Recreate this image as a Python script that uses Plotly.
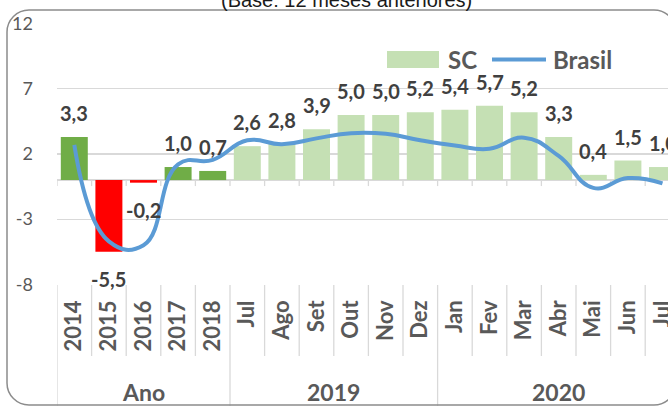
import plotly.graph_objects as go

# ---------------- data ----------------
categories = ["2014", "2015", "2016", "2017", "2018",
              "Jul", "Ago", "Set", "Out", "Nov", "Dez",
              "Jan", "Fev", "Mar", "Abr", "Mai", "Jun", "Jul"]
group_names = ["Ano", "2019", "2020"]
group_sizes = [5, 6, 7]
sc_values = [3.3, -5.5, -0.2, 1.0, 0.7,
             2.6, 2.8, 3.9, 5.0, 5.0, 5.2,
             5.4, 5.7, 5.2, 3.3, 0.4, 1.5, 1.0]
brasil_values = [2.7, -4.7, -5.0, 1.2, 1.55,
                 3.05, 2.75, 3.2, 3.6, 3.55, 3.05,
                 2.65, 2.4, 3.25, 1.85, -0.6, 0.15, -0.25]
y_ticks = [-8, -3, 2, 7, 12]
series_names = ["SC", "Brasil"]
title_text = "(Base: 12 meses anteriores)"

# ---------------- layout constants ----------------
W, H = 668, 406
ML, MR, MT = 57, 0, 23
PH = 262
MB = H - MT - PH
PW = W - ML - MR
CAT_W = 34.6
x_range = [-0.5, -0.5 + PW / CAT_W]
y_range = [-8.05, 12.05]

C_DARK_GREEN = "#70AD47"
C_RED = "#FF0000"
C_LIGHT_GREEN = "#C5E0B4"
C_LINE = "#5B9BD5"
C_GRID = "#D9D9D9"
C_AXIS_TXT = "#595959"
C_LABEL = "#404040"
FONT = "Lato"


def pxx(px):
    """window pixel x -> paper x"""
    return (px - ML) / PW


def pxy(py):
    """window pixel y -> paper y"""
    return (H - MB - py) / PH


x_idx = list(range(len(categories)))
n_annual = group_sizes[0]
bar_colors = []
for i, v in enumerate(sc_values):
    if i < n_annual:
        bar_colors.append(C_DARK_GREEN if v >= 0 else C_RED)
    else:
        bar_colors.append(C_LIGHT_GREEN)

fig = go.Figure()
fig.add_trace(go.Bar(x=x_idx, y=sc_values, name=series_names[0],
                     marker=dict(color=bar_colors, line=dict(width=0)),
                     hoverinfo="skip"))
fig.add_trace(go.Scatter(x=x_idx, y=brasil_values, name=series_names[1],
                         mode="lines",
                         line=dict(color=C_LINE, width=4, shape="spline", smoothing=1.3),
                         hoverinfo="skip"))

shapes = []
annotations = []

# zero line ticks (category boundaries)
for b in range(len(categories) + 1):
    shapes.append(dict(type="line", xref="x", yref="y", ysizemode="pixel", yanchor=0,
                       x0=b - 0.5, x1=b - 0.5, y0=0, y1=-6,
                       line=dict(color=C_GRID, width=1.3), layer="below"))

# bottom category dividers
group_starts = []
s = 0
for g in group_sizes:
    group_starts.append(s)
    s += g
for b in range(len(categories) + 1):
    is_group = b in group_starts or b == len(categories)
    y1 = pxy(H + 5) if is_group else pxy(356)
    shapes.append(dict(type="line", xref="x", yref="paper",
                       x0=b - 0.5, x1=b - 0.5, y0=0, y1=y1,
                       line=dict(color=C_GRID, width=1.3)))

# group labels
for name, start, size in zip(group_names, group_starts, group_sizes):
    annotations.append(dict(x=start + (size - 1) / 2, xref="x", y=pxy(392), yref="paper",
                            text=name, showarrow=False, xanchor="center", yanchor="middle",
                            font=dict(family=FONT, size=23, color=C_AXIS_TXT, weight="bold")))

# data labels
for i, v in enumerate(sc_values):
    txt = f"{v:.1f}".replace(".", ",")
    if v >= 0:
        annotations.append(dict(x=i, y=v, xref="x", yref="y", text=txt, showarrow=False,
                                xanchor="center", yanchor="bottom", yshift=10,
                                font=dict(family=FONT, size=20, color=C_LABEL, weight="bold")))
    else:
        annotations.append(dict(x=i, y=v, xref="x", yref="y", text=txt, showarrow=False,
                                xanchor="center", yanchor="top", yshift=-13,
                                font=dict(family=FONT, size=20, color=C_LABEL, weight="bold")))

# manual legend
shapes.append(dict(type="rect", xref="paper", yref="paper",
                   x0=pxx(387), x1=pxx(439), y0=pxy(68), y1=pxy(51),
                   fillcolor=C_LIGHT_GREEN, line=dict(width=0)))
annotations.append(dict(x=pxx(446), y=pxy(60), xref="paper", yref="paper", text=series_names[0],
                        showarrow=False, xanchor="left", yanchor="middle",
                        font=dict(family=FONT, size=24, color=C_AXIS_TXT, weight="bold")))
shapes.append(dict(type="line", xref="paper", yref="paper",
                   x0=pxx(492), x1=pxx(546), y0=pxy(59.5), y1=pxy(59.5),
                   line=dict(color=C_LINE, width=4)))
annotations.append(dict(x=pxx(551), y=pxy(60), xref="paper", yref="paper", text=series_names[1],
                        showarrow=False, xanchor="left", yanchor="middle",
                        font=dict(family=FONT, size=24, color=C_AXIS_TXT, weight="bold")))

# title (cut at top in the reference)
annotations.append(dict(x=pxx(346), y=pxy(0), xref="paper", yref="paper", text=title_text,
                        showarrow=False, xanchor="center", yanchor="middle",
                        font=dict(family="Liberation Sans", size=20, color="#1a1a1a")))

# rounded frame
fx0, fx1, fy0, fy1, r = 7, 676, 10, 405, 22
k = 0.5523 * r


def P(px, py):
    return f"{pxx(px):.5f},{pxy(py):.5f}"


path = (f"M {P(fx0, fy0 + r)} C {P(fx0, fy0 + r - k)} {P(fx0 + r - k, fy0)} {P(fx0 + r, fy0)} "
        f"L {P(fx1 - r, fy0)} C {P(fx1 - r + k, fy0)} {P(fx1, fy0 + r - k)} {P(fx1, fy0 + r)} "
        f"L {P(fx1, fy1 - r)} C {P(fx1, fy1 - r + k)} {P(fx1 - r + k, fy1)} {P(fx1 - r, fy1)} "
        f"L {P(fx0 + r, fy1)} C {P(fx0 + r - k, fy1)} {P(fx0, fy1 - r + k)} {P(fx0, fy1 - r)} Z")
shapes.append(dict(type="path", xref="paper", yref="paper", path=path,
                   line=dict(color="#8C8C8C", width=1.5), fillcolor="rgba(0,0,0,0)"))

fig.update_layout(
    template="none",
    width=W, height=H,
    margin=dict(l=ML, r=MR, t=MT, b=MB, pad=0, autoexpand=False),
    paper_bgcolor="white", plot_bgcolor="white",
    showlegend=False,
    bargap=0.22,
    shapes=shapes,
    annotations=annotations,
    xaxis=dict(range=x_range, tickmode="array", tickvals=x_idx, ticktext=categories,
               tickangle=-90, ticks="", showgrid=False, zeroline=False, showline=False,
               automargin=False, fixedrange=True, ticklabelstandoff=10,
               ticklabeloverflow="allow",
               tickfont=dict(family=FONT, size=22, color=C_AXIS_TXT, weight="bold")),
    yaxis=dict(range=y_range, tickmode="array", tickvals=y_ticks,
               ticktext=[str(v) for v in y_ticks], ticks="",
               showgrid=True, gridcolor=C_GRID, gridwidth=1.3,
               zeroline=True, zerolinecolor=C_GRID, zerolinewidth=1.5,
               showline=False, automargin=False, fixedrange=True, ticklabelstandoff=23,
               tickfont=dict(family=FONT, size=18, color=C_AXIS_TXT)),
)

# remove the default page margin so the figure fills the window exactly
fig.write_html("out.html",
               config={"displayModeBar": False, "staticPlot": True},
               post_script="document.body.style.margin='0';"
                           "document.body.style.overflow='hidden';")
